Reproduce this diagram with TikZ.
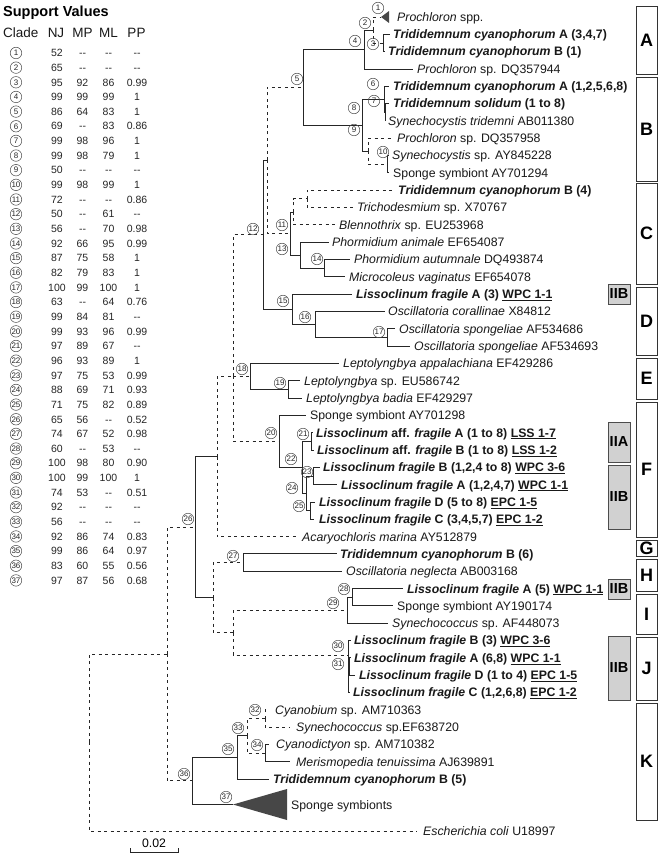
\documentclass[tikz,border=0pt]{standalone}
\usepackage{fontspec}
\setmainfont{Liberation Sans}
\newcommand\nodash{-{}-}
\begin{document}
\begin{tikzpicture}[x=1pt,y=-1pt,
  br/.style={line width=0.95pt, draw=black!85},
  db/.style={br, dash pattern=on 3pt off 3.5pt},
  lf/.style={anchor=west, inner sep=0pt, text height=11pt, text depth=2.2pt, font=\fontsize{12.3}{14}\selectfont, text=black!90},
  cn/.style={circle, draw=black!70, line width=0.5pt, inner sep=0pt, minimum size=11.5pt, font=\fontsize{8}{9}\selectfont, text=black!85},
  tv/.style={inner sep=0pt, text height=7.5pt, text depth=0pt, font=\fontsize{10.5}{12}\selectfont, text=black!85},
  th/.style={inner sep=0pt, text height=9.7pt, text depth=0pt, font=\fontsize{13.5}{15}\selectfont, text=black!90},
  cbox/.style={draw=black!80, line width=0.8pt, minimum width=21pt, inner sep=0pt, font=\bfseries\fontsize{18}{20}\selectfont},
  gbox/.style={draw=black!70, fill=black!18, line width=0.8pt, minimum width=22pt, inner sep=0pt, font=\bfseries\fontsize{14.5}{16}\selectfont},
  tri/.style={fill=black!72}
]
\fill[white] (0,0) rectangle (662,858);
\useasboundingbox (0,0) rectangle (662,858);

% ---------------- support table ----------------
\node[anchor=west, inner sep=0pt, text height=10.4pt, text depth=0pt, font=\bfseries\fontsize{14.5}{16}\selectfont] (sv) at (3,11) {Support Values};
\node[th, anchor=west] (hc) at (3,33) {Clade};
\node[th] (hnj) at (56,33) {NJ};
\node[th] (hmp) at (82.5,33) {MP};
\node[th] (hml) at (108.5,33) {ML};
\node[th] (hpp) at (136.5,33) {PP};
\foreach \k/\a/\b/\c/\d in {1/52/\nodash/\nodash/\nodash, 2/65/\nodash/\nodash/\nodash, 3/95/92/86/0.99, 4/99/99/99/1, 5/86/64/83/1, 6/69/\nodash/83/0.86, 7/99/98/96/1, 8/99/98/79/1, 9/50/\nodash/\nodash/\nodash, 10/99/98/99/1, 11/72/\nodash/\nodash/0.86, 12/50/\nodash/61/\nodash, 13/56/\nodash/70/0.98, 14/92/66/95/0.99, 15/87/75/58/1, 16/82/79/83/1, 17/100/99/100/1, 18/63/\nodash/64/0.76, 19/99/84/81/\nodash, 20/99/93/96/0.99, 21/97/89/67/\nodash, 22/96/93/89/1, 23/97/75/53/0.99, 24/88/69/71/0.93, 25/71/75/82/0.89, 26/65/56/\nodash/0.52, 27/74/67/52/0.98, 28/60/\nodash/53/\nodash, 29/100/98/80/0.90, 30/100/99/100/1, 31/74/53/\nodash/0.51, 32/92/\nodash/\nodash/\nodash, 33/56/\nodash/\nodash/\nodash, 34/92/86/74/0.83, 35/99/86/64/0.97, 36/83/60/55/0.56, 37/97/87/56/0.68}{
  \pgfmathsetmacro\yy{53+(\k-1)*14.65}
  \node[cn] (tc\k) at (16,\yy) {\k};
  \node[tv] (ta\k) at (57,\yy) {\a};
  \node[tv] (tb\k) at (82.5,\yy) {\b};
  \node[tv] (td\k) at (108.5,\yy) {\c};
  \node[tv] (tp\k) at (137,\yy) {\d};
}

% ---------------- coordinates of internal nodes ----------------
\coordinate (n1) at (381,17);
\coordinate (n2) at (373,30);
\coordinate (n3) at (383,43);
\coordinate (n4) at (364,49.5);
\coordinate (n5) at (303,87.4);
\coordinate (n6) at (384,99.3);
\coordinate (n7) at (385,112.3);
\coordinate (n8) at (362,125.3);
\coordinate (n9) at (368,151.2);
\coordinate (n10) at (387,164.2);
\coordinate (nb4) at (307,198.9);
\coordinate (n11) at (293,212);
\coordinate (n13) at (290,233.5);
\coordinate (nq) at (300,255.1);
\coordinate (n14) at (324,268.2);
\coordinate (nx) at (267,160.5);
\coordinate (n12) at (263,234.9);
\coordinate (n15) at (292,309.2);
\coordinate (n16) at (315,324.4);
\coordinate (n17) at (387,337.5);
\coordinate (n18) at (250,376.4);
\coordinate (n19) at (288,389.4);
\coordinate (n20) at (279,441.3);
\coordinate (n21) at (311,441.3);
\coordinate (n22) at (302,467.3);
\coordinate (n23) at (313,476);
\coordinate (n24) at (306,493.3);
\coordinate (n25) at (310,510.6);
\coordinate (ny) at (233,376.4);
\coordinate (nu) at (217,456.5);
\coordinate (n27) at (243,562.6);
\coordinate (n28) at (352,597.2);
\coordinate (n29) at (347,610.2);
\coordinate (n30) at (348,655);
\coordinate (n31) at (349.3,666.5);
\coordinate (nw) at (233,632.6);
\coordinate (nl) at (213,597.6);
\coordinate (n26) at (195,527);
\coordinate (n32) at (265,718.5);
\coordinate (n34) at (265,753.1);
\coordinate (n33) at (247,735.8);
\coordinate (n35) at (237,757.3);
\coordinate (n37) at (233,804.5);
\coordinate (n36) at (192,780.9);
\coordinate (np) at (167,654);
\coordinate (nr) at (89,742);

% ---------------- leaves: branch ends and labels ----------------
\coordinate (e2) at (390,34.3);   \coordinate (e3) at (385,51.6);   \coordinate (e4) at (413,69);
\coordinate (e5) at (389,86.3);   \coordinate (e6) at (389,103.6);  \coordinate (e7) at (385,120.9);
\coordinate (e8) at (393,138.2);  \coordinate (e9) at (389,155.6);  \coordinate (e10) at (389,172.9);
\coordinate (e11) at (395,190.2); \coordinate (e12) at (353,207.5); \coordinate (e13) at (335,224.8);
\coordinate (e14) at (329,242.2); \coordinate (e15) at (350,259.5); \coordinate (e16) at (345,276.8);
\coordinate (e17) at (352,294.1); \coordinate (e18) at (385,311.4); \coordinate (e19) at (395,328.8);
\coordinate (e20) at (410,346.1); \coordinate (e21) at (339,363.4); \coordinate (e22) at (300,380.7);
\coordinate (e23) at (302,398);   \coordinate (e24) at (306,415.4); \coordinate (e25) at (313,432.7);
\coordinate (e26) at (314,450);   \coordinate (e27) at (320,467.3); \coordinate (e28) at (337,484.6);
\coordinate (e29) at (315,502);   \coordinate (e30) at (314,519.3); \coordinate (e31) at (298,536.6);
\coordinate (e32) at (337,553.9); \coordinate (e33) at (342,571.2); \coordinate (e34) at (403,588.6);
\coordinate (e35) at (393,605.9); \coordinate (e36) at (388,623.2); \coordinate (e37) at (351,640.5);
\coordinate (e38) at (351,657.8); \coordinate (e39) at (355,675.2); \coordinate (e40) at (350,692.5);
\coordinate (e41) at (269,709.8); \coordinate (e42) at (290,727.1); \coordinate (e43) at (269,744.4);
\coordinate (e44) at (290,761.8); \coordinate (e45) at (269,779.1); \coordinate (e47) at (417,831);

\node[lf] (t1) at (397,17) {\textit{Prochloron} spp.};
\node[lf] (t2) at (393,34.3) {\bfseries\textit{Trididemnum cyanophorum} A (3,4,7)};
\node[lf] (t3) at (388,51.6) {\bfseries\textit{Trididemnum cyanophorum} B (1)};
\node[lf] (t4) at (417,69) {\textit{Prochloron} sp. DQ357944};
\node[lf] (t5) at (393,86.3) {\bfseries\textit{Trididemnum cyanophorum} A (1,2,5,6,8)};
\node[lf] (t6) at (393,103.6) {\bfseries\textit{Trididemnum solidum} (1 to 8)};
\node[lf] (t7) at (388,120.9) {\textit{Synechocystis tridemni} AB011380};
\node[lf] (t8) at (397,138.2) {\textit{Prochloron} sp. DQ357958};
\node[lf] (t9) at (392,155.6) {\textit{Synechocystis} sp. AY845228};
\node[lf] (t10) at (393,172.9) {Sponge symbiont AY701294};
\node[lf] (t11) at (398,190.2) {\bfseries\textit{Trididemnum cyanophorum} B (4)};
\node[lf] (t12) at (357,207.5) {\textit{Trichodesmium} sp. X70767};
\node[lf] (t13) at (339,224.8) {\textit{Blennothrix} sp. EU253968};
\node[lf] (t14) at (332,242.2) {\textit{Phormidium animale} EF654087};
\node[lf] (t15) at (354,259.5) {\textit{Phormidium autumnale} DQ493874};
\node[lf] (t16) at (349,276.8) {\textit{Microcoleus vaginatus} EF654078};
\node[lf] (t17) at (356,294.1) {\bfseries\textit{Lissoclinum fragile} A (3) \underline{WPC 1-1}};
\node[lf] (t18) at (388,311.4) {\textit{Oscillatoria corallinae} X84812};
\node[lf] (t19) at (399,328.8) {\textit{Oscillatoria spongeliae} AF534686};
\node[lf] (t20) at (414,346.1) {\textit{Oscillatoria spongeliae} AF534693};
\node[lf] (t21) at (343,363.4) {\textit{Leptolyngbya appalachiana} EF429286};
\node[lf] (t22) at (304,380.7) {\textit{Leptolyngbya} sp. EU586742};
\node[lf] (t23) at (306,398) {\textit{Leptolyngbya badia} EF429297};
\node[lf] (t24) at (310,415.4) {Sponge symbiont AY701298};
\node[lf] (t25) at (316,432.7) {\bfseries\textit{Lissoclinum} aff. \textit{fragile} A (1 to 8) \underline{LSS 1-7}};
\node[lf] (t26) at (317,450) {\bfseries\textit{Lissoclinum} aff. \textit{fragile} B (1 to 8) \underline{LSS 1-2}};
\node[lf] (t27) at (323,467.3) {\bfseries\textit{Lissoclinum fragile} B (1,2,4 to 8) \underline{WPC 3-6}};
\node[lf] (t28) at (341,484.6) {\bfseries\textit{Lissoclinum fragile} A (1,2,4,7) \underline{WPC 1-1}};
\node[lf] (t29) at (319,502) {\bfseries\textit{Lissoclinum fragile} D (5 to 8) \underline{EPC 1-5}};
\node[lf] (t30) at (319,519.3) {\bfseries\textit{Lissoclinum fragile} C (3,4,5,7) \underline{EPC 1-2}};
\node[lf] (t31) at (302,536.6) {\textit{Acaryochloris marina} AY512879};
\node[lf] (t32) at (340,553.9) {\bfseries\textit{Trididemnum cyanophorum} B (6)};
\node[lf] (t33) at (346,571.2) {\textit{Oscillatoria neglecta} AB003168};
\node[lf] (t34) at (407,588.6) {\bfseries\textit{Lissoclinum fragile} A (5) \underline{WPC 1-1}};
\node[lf] (t35) at (397,605.9) {Sponge symbiont AY190174};
\node[lf] (t36) at (392,623.2) {\textit{Synechococcus} sp. AF448073};
\node[lf] (t37) at (354,640.5) {\bfseries\textit{Lissoclinum fragile} B (3) \underline{WPC 3-6}};
\node[lf] (t38) at (354,657.8) {\bfseries\textit{Lissoclinum fragile} A (6,8) \underline{WPC 1-1}};
\node[lf] (t39) at (359,675.2) {\bfseries\textit{Lissoclinum fragile} D (1 to 4) \underline{EPC 1-5}};
\node[lf] (t40) at (353,692.5) {\bfseries\textit{Lissoclinum fragile} C (1,2,6,8) \underline{EPC 1-2}};
\node[lf] (t41) at (275,709.8) {\textit{Cyanobium} sp. AM710363};
\node[lf] (t42) at (296,727.1) {\textit{Synechococcus} sp.EF638720};
\node[lf] (t43) at (276,744.4) {\textit{Cyanodictyon} sp. AM710382};
\node[lf] (t44) at (296,761.8) {\textit{Merismopedia tenuissima} AJ639891};
\node[lf] (t45) at (273,779.1) {\bfseries\textit{Trididemnum cyanophorum} B (5)};
\node[lf] (t46) at (291,805) {Sponge symbionts};
\node[lf] (t47) at (423,831) {\textit{Escherichia coli} U18997};

% ---------------- branches ----------------
\fill[tri] (n1) -- (389,11) -- (389,23) -- cycle;
\draw[db] (n2) |- (n1);  \draw[db] (n2) |- (n3);
\draw[br] (n3) |- (e2);  \draw[br] (n3) |- (e3);
\draw[br] (n4) |- (n2);  \draw[br] (n4) |- (e4);
\draw[br] (n6) |- (e5);  \draw[br] (n6) |- (n7);
\draw[br] (n7) |- (e6);  \draw[br] (n7) |- (e7);
\draw[br] (n8) |- (n6);  \draw[br] (n8) |- (n9);
\draw[db] (n9) |- (e8);  \draw[db] (n9) |- (n10);
\draw[br] (n10) |- (e9); \draw[br] (n10) |- (e10);
\draw[br] (n5) |- (n4);  \draw[br] (n5) |- (n8);
\draw[db] (nb4) |- (e11); \draw[db] (nb4) |- (e12);
\draw[db] (n11) |- (nb4); \draw[db] (n11) |- (e13);
\draw[br] (n13) |- (n11); \draw[br] (n13) |- (nq);
\draw[br] (nq) |- (e14);  \draw[br] (nq) |- (n14);
\draw[br] (n14) |- (e15); \draw[br] (n14) |- (e16);
\draw[db] (nx) |- (n5);   \draw[db] (nx) |- (n13);
\draw[br] (n15) |- (e17); \draw[br] (n15) |- (n16);
\draw[br] (n16) |- (e18); \draw[br] (n16) |- (n17);
\draw[br] (n17) |- (e19); \draw[br] (n17) |- (e20);
\draw[br] (n12) |- (nx);  \draw[br] (n12) |- (n15);
\draw[br] (n18) |- (e21); \draw[br] (n18) |- (n19);
\draw[br] (n19) |- (e22); \draw[br] (n19) |- (e23);
\draw[br] (n20) |- (e24); \draw[br] (n20) |- (n22);
\draw[br] (n22) |- (n21); \draw[br] (n22) |- (n24);
\draw[br] (n21) |- (e25); \draw[br] (n21) |- (e26);
\draw[br] (n24) |- (n23); \draw[br] (n24) |- (n25);
\draw[br] (n23) |- (e27); \draw[br] (n23) |- (e28);
\draw[br] (n25) |- (e29); \draw[br] (n25) |- (e30);
\draw[db] (ny) |- (n12);  \draw[db] (ny) |- (n18); \draw[db] (ny) |- (n20);
\draw[db] (nu) |- (ny);   \draw[db] (nu) |- (e31);
\draw[br] (n27) |- (e32); \draw[br] (n27) |- (e33);
\draw[br] (n28) |- (e34); \draw[br] (n28) |- (e35);
\draw[br] (n29) |- (n28); \draw[br] (n29) |- (e36);
\draw[br] (n30) |- (e37); \draw[br] (n30) |- (e38);
\draw[br] (n30) |- (e39); \draw[br] (n30) |- (e40);
\draw[br, line width=2.2pt] (e38 -| n31) -- (e39 -| n31);
\draw[db] (nw) |- (n29);  \draw[db] (nw) |- (n30);
\draw[db] (nl) |- (n27);  \draw[db] (nl) |- (nw);
\draw[br] (n26) |- (nu);  \draw[br] (n26) |- (nl);
\draw[db] (n32) |- (e41); \draw[db] (n32) |- (e42);
\draw[br] (n34) |- (e43); \draw[br] (n34) |- (e44);
\draw[db] (n33) |- (n32); \draw[db] (n33) |- (n34);
\draw[br] (n35) |- (n33); \draw[br] (n35) |- (e45);
\draw[br] (n36) |- (n35); \draw[br] (n36) |- (n37);
\fill[tri] (n37) -- (287,789) -- (287,820) -- cycle;
\draw[db] (np) |- (n26);  \draw[db] (np) |- (n36);
\draw[db] (nr) |- (np);   \draw[db] (nr) |- (e47);

% ---------------- node labels (circled numbers) ----------------
\foreach \k/\x/\y in {1/378/8, 2/365/23, 3/373/44, 4/355/41, 5/297/79, 6/373/84, 7/374/101, 8/354/108, 9/354/130, 10/383/152, 11/282/225, 12/253/229, 13/282/249, 14/317/259, 15/283/301, 16/305/317, 17/379/332, 18/242/369, 19/280/383, 20/271/433, 21/303/434, 22/291/459, 23/307/472, 24/292/488, 25/299/506, 26/188/519, 27/233/556, 28/344/589, 29/333/603, 30/338/646, 31/338/664, 32/255/710, 33/238/728, 34/257/745, 35/228/749, 36/184/774, 37/226/797}{
  \node[cn] (c\k) at (\x,\y) {\k};
}

% ---------------- scale bar ----------------
\coordinate (sbl) at (130,852);
\coordinate (sbr) at (178,852);
\draw[br] ([yshift=4pt]sbl) -- (sbl) -- (sbr) -- ([yshift=4pt]sbr);
\node[inner sep=0pt, font=\fontsize{12.3}{14}\selectfont] (sbt) at (154,843) {0.02};

% ---------------- gray group boxes ----------------
\node[gbox, minimum height=20pt] (gD) at (619,294) {IIB};
\node[gbox, minimum height=40pt] (gFa) at (619,442) {IIA};
\node[gbox, minimum height=64pt] (gFb) at (619,497) {IIB};
\node[gbox, minimum height=20pt] (gI) at (619,589) {IIB};
\node[gbox, minimum height=64pt] (gJ) at (619,668) {IIB};

% ---------------- clade boxes ----------------
\node[cbox, minimum height=68pt] (bA) at (646.5,40) {A};
\node[cbox, minimum height=104pt] (bB) at (646.5,129) {B};
\node[cbox, minimum height=101pt] (bC) at (646.5,233.5) {C};
\node[cbox, minimum height=68pt] (bD) at (646.5,321) {D};
\node[cbox, minimum height=41pt] (bE) at (646.5,378.5) {E};
\node[cbox, minimum height=135pt] (bF) at (646.5,469.5) {F};
\node[cbox, minimum height=16pt] (bG) at (646.5,548) {G};
\node[cbox, minimum height=32pt] (bH) at (646.5,575) {H};
\node[cbox, minimum height=40pt] (bI) at (646.5,614) {I};
\node[cbox, minimum height=63pt] (bJ) at (646.5,668.5) {J};
\node[cbox, minimum height=117pt] (bK) at (646.5,761.5) {K};
\end{tikzpicture}
\end{document}
